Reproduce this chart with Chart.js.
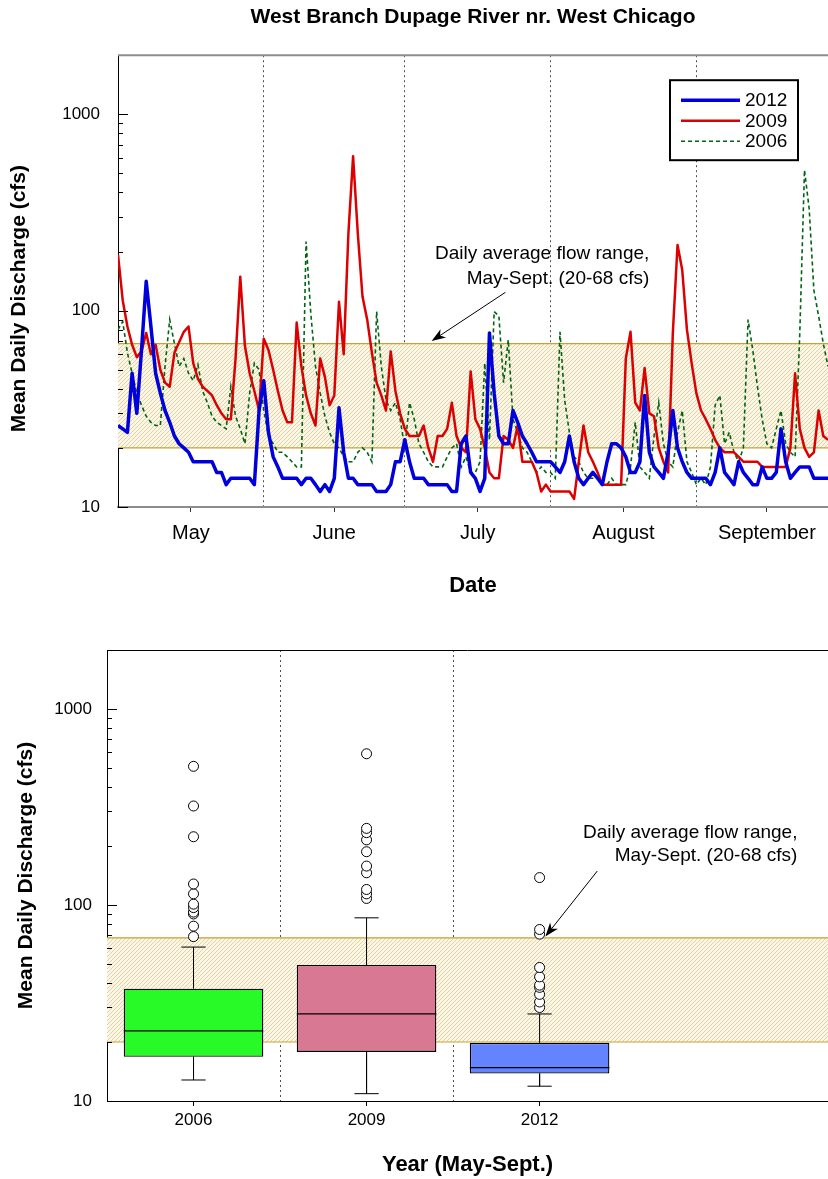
<!DOCTYPE html>
<html>
<head>
<meta charset="utf-8">
<title>West Branch Dupage River nr. West Chicago</title>
<script src="https://cdn.jsdelivr.net/npm/chart.js@4.4.1/dist/chart.umd.min.js"></script>
<style>
  html, body { margin: 0; padding: 0; background: #fff; }
  #page { position: relative; width: 828px; height: 1179px; }
  canvas { display: block; position: absolute; left: 0; }
  #flowChart { top: 0; }
  #boxChart { top: 600px; }
</style>
</head>
<body>
<div id="page">
  <canvas id="flowChart" width="828" height="600"></canvas>
  <canvas id="boxChart" width="828" height="579"></canvas>
</div>
<script>
// Daily mean discharge (cfs), one value per day from May 1 to Sept 29
const flow2012 = [
  26, 25, 24, 48, 30, 63, 141, 83, 48, 38, 31, 27, 23, 21, 20, 19, 17, 17, 17, 17, 17, 15, 15, 13, 14, 14, 14, 14, 14, 13, 31,   // May
  44, 24, 18, 16, 14, 14, 14, 14, 13, 14, 14, 13, 12, 13, 12, 14, 32, 19, 14, 14, 13, 13, 13, 13, 12, 12, 12, 13, 17, 17,       // June
  22, 17, 14, 14, 14, 13, 13, 13, 13, 13, 12, 12, 21, 23, 15, 14, 12, 14, 77, 38, 23, 21, 21, 31, 27, 23, 21, 19, 17, 17, 17,   // July
  17, 16, 15, 17, 23, 17, 14, 13, 14, 15, 14, 13, 17, 21, 21, 20, 18, 15, 15, 17, 37, 19, 16, 15, 14, 19, 31, 20, 17, 15, 14,   // August
  14, 14, 14, 13, 15, 20, 15, 14, 13, 17, 15, 14, 13, 13, 16, 14, 14, 15, 25, 17, 14, 15, 16, 16, 16, 14, 14, 14, 14            // September
];
const flow2009 = [
  193, 113, 83, 67, 58, 62, 77, 60, 67, 50, 43, 41, 61, 69, 78, 83, 54, 45, 41, 39, 37, 33, 30, 28, 28, 57, 149, 66, 48, 39, 31,
  72, 63, 50, 39, 31, 27, 27, 87, 52, 37, 30, 26, 57, 46, 33, 37, 111, 60, 247, 612, 247, 118, 90, 61, 43, 37, 31, 62, 39, 30,
  25, 23, 23, 23, 26, 20, 17, 23, 23, 25, 34, 23, 20, 19, 49, 28, 25, 20, 15, 14, 14, 23, 22, 20, 26, 17, 17, 17, 15, 12, 13,
  12, 12, 12, 12, 12, 11, 17, 26, 19, 17, 15, 13, 13, 13, 13, 13, 57, 78, 34, 31, 51, 30, 29, 20, 17, 15, 77, 216, 161, 80, 54,
  38, 31, 28, 25, 22, 20, 19, 19, 19, 18, 17, 17, 17, 17, 16, 16, 16, 16, 16, 16, 20, 48, 25, 20, 18, 19, 31, 23, 22
];
const flow2006 = [
  80, 88, 61, 48, 38, 33, 29, 27, 26, 26, 52, 90, 68, 52, 57, 48, 44, 53, 39, 34, 29, 27, 26, 25, 41, 29, 25, 21, 38, 54, 50,
  31, 23, 21, 19, 19, 18, 17, 16, 16, 225, 97, 52, 38, 29, 24, 21, 20, 18, 17, 17, 19, 20, 19, 17, 99, 52, 35, 31, 34, 28,
  20, 34, 28, 21, 19, 17, 16, 16, 16, 18, 20, 21, 16, 18, 15, 15, 17, 54, 22, 99, 94, 43, 71, 28, 24, 20, 19, 17, 15, 16, 15,
  15, 14, 78, 35, 24, 18, 17, 15, 14, 14, 14, 13, 13, 14, 13, 13, 13, 16, 27, 16, 15, 14, 23, 34, 21, 17, 16, 24, 31, 17, 15,
  13, 14, 13, 16, 33, 37, 21, 24, 19, 17, 20, 90, 63, 41, 28, 21, 20, 25, 31, 21, 19, 18, 77, 520, 330, 127, 94, 68, 52
];

// day numbers counted from May 1
const monthNames = ['May', 'June', 'July', 'August', 'September'];
const monthStarts = [0, 31, 61, 92, 123];
const monthMids = [15.5, 46, 76.5, 107.5, 138];
const lastDay = 151;

// daily average flow range for May-Sept.
const rangeLow = 20;
const rangeHigh = 68;

// box plot summaries per year
const boxYears = [2006, 2009, 2012];
const boxLabels = ['2006', '2009', '2012'];
const whiskerLow = [12.8, 10.9, 11.9];
const quartile1 = [16.8, 17.8, 13.8];
const medians = [22.8, 27.8, 14.8];
const quartile3 = [37.4, 49.4, 19.8];
const whiskerHigh = [61, 86, 27.8];
const outliers2006 = [69, 78, 90, 92, 97, 101, 114, 128, 223, 320, 510];
const outliers2009 = [108, 114, 120, 146, 158, 187, 215, 234, 246, 591];
const outliers2012 = [30, 32, 35, 38, 39, 43, 48, 71, 75, 138];

const yTickValues = [10, 20, 30, 40, 50, 60, 70, 80, 90, 100, 200, 300, 400, 500, 600, 700, 800, 900, 1000, 2000];
const yLabelled = [10, 100, 1000];

const family = "'Liberation Sans', Arial, Helvetica, sans-serif";
Chart.defaults.font.family = family;
Chart.defaults.color = '#000';

const noteLines = ['Daily average flow range,', 'May-Sept. (20-68 cfs)'];
const yTitle = 'Mean Daily Discharge (cfs)';

// light tan diagonal hatching for the flow range band
function hatchPattern() {
  const c = document.createElement('canvas');
  c.width = 4; c.height = 4;
  const g = c.getContext('2d');
  g.fillStyle = '#fbf6e6';
  g.fillRect(0, 0, 4, 4);
  g.strokeStyle = '#e2d3a6';
  g.lineWidth = 1;
  g.beginPath(); g.moveTo(-1, 5); g.lineTo(5, -1); g.stroke();
  return g.createPattern(c, 'repeat');
}

function bandSets(x0, x1) {
  const edge = { type: 'line', borderColor: '#c9a233', borderWidth: 1.2, pointRadius: 0, order: 10, xAxisID: 'x' };
  return [
    Object.assign({ label: 'hi', data: [{ x: x0, y: rangeHigh }, { x: x1, y: rangeHigh }], fill: false }, edge),
    Object.assign({ label: 'lo', data: [{ x: x0, y: rangeLow }, { x: x1, y: rangeLow }], fill: '-1', backgroundColor: hatchPattern() }, edge)
  ];
}

function logAxis(labelPad, titlePad, width, titleText) {
  return {
    type: 'logarithmic', min: 10, max: 2000,
    afterBuildTicks: s => { s.ticks = yTickValues.map(v => ({ value: v })); },
    afterFit: s => { s.width = width; },
    ticks: { autoSkip: false, padding: labelPad, font: { size: 17 }, color: '#000',
      callback: v => yLabelled.includes(v) ? String(v) : '' },
    grid: { display: false, drawTicks: false },
    border: { display: true, color: '#000', width: 1 },
    title: { display: true, text: titleText, color: '#000',
      font: { size: 21, weight: 'bold' }, padding: { top: titlePad, bottom: 0 } }
  };
}

// short tick marks on the inside of the left axis
const innerTicks = {
  id: 'innerTicks',
  afterDraw(chart) {
    const { ctx, chartArea: a } = chart;
    const y = chart.scales.y;
    ctx.save();
    ctx.strokeStyle = '#000';
    ctx.lineWidth = 1;
    y.ticks.forEach(t => {
      const py = Math.round(y.getPixelForValue(t.value)) + 0.5;
      const len = yLabelled.includes(t.value) ? 10 : 5;
      ctx.beginPath(); ctx.moveTo(a.left, py); ctx.lineTo(a.left + len, py); ctx.stroke();
    });
    ctx.restore();
  }
};

// line along the top edge of the plot
const frameTop = {
  id: 'frameTop',
  afterDraw(chart, args, o) {
    const { ctx, chartArea: a } = chart;
    ctx.save();
    ctx.strokeStyle = o.color;
    ctx.lineWidth = o.width;
    const y = a.top + (o.width % 2 ? 0.5 : 0);
    ctx.beginPath(); ctx.moveTo(a.left, y); ctx.lineTo(a.right, y); ctx.stroke();
    ctx.restore();
  }
};

// text note with an arrow pointing at the band
const rangeNote = {
  id: 'rangeNote',
  afterDatasetsDraw(chart, args, o) {
    const { ctx, scales: { x, y } } = chart;
    ctx.save();
    ctx.font = '19px ' + family;
    ctx.fillStyle = '#000';
    ctx.textAlign = 'right';
    ctx.textBaseline = 'middle';
    noteLines.forEach((t, i) => ctx.fillText(t, x.getPixelForValue(o.textX), y.getPixelForValue(o.lineY[i])));
    const x0 = x.getPixelForValue(o.from[0]), y0 = y.getPixelForValue(o.from[1]);
    const x1 = x.getPixelForValue(o.to[0]), y1 = y.getPixelForValue(o.to[1]);
    const ang = Math.atan2(y1 - y0, x1 - x0);
    const c = Math.cos(ang), s = Math.sin(ang);
    ctx.strokeStyle = '#000';
    ctx.lineWidth = 1;
    ctx.beginPath(); ctx.moveTo(x0, y0); ctx.lineTo(x1 - 8 * c, y1 - 8 * s); ctx.stroke();
    ctx.beginPath();
    ctx.moveTo(x1, y1);
    ctx.lineTo(x1 - 14 * c + 5 * s, y1 - 14 * s - 5 * c);
    ctx.lineTo(x1 - 10 * c, y1 - 10 * s);
    ctx.lineTo(x1 - 14 * c - 5 * s, y1 - 14 * s + 5 * c);
    ctx.closePath();
    ctx.fill();
    ctx.restore();
  }
};

// boxed key for the three years
const seriesKey = {
  id: 'seriesKey',
  afterDraw(chart) {
    const { ctx, chartArea: a } = chart;
    const left = a.right - 158, top = a.top + 25;
    ctx.save();
    ctx.fillStyle = '#fff';
    ctx.fillRect(left, top, 128, 80);
    ctx.strokeStyle = '#000';
    ctx.lineWidth = 2;
    ctx.strokeRect(left, top, 128, 80);
    chart.data.datasets.slice(0, 3).forEach((ds, i) => {
      const yy = top + 20 + i * 20.5;
      ctx.strokeStyle = ds.borderColor;
      ctx.lineWidth = ds.borderWidth;
      ctx.setLineDash(ds.borderDash || []);
      ctx.beginPath(); ctx.moveTo(left + 11, yy); ctx.lineTo(left + 70, yy); ctx.stroke();
      ctx.setLineDash([]);
      ctx.fillStyle = '#000';
      ctx.font = '19px ' + family;
      ctx.textBaseline = 'middle';
      ctx.fillText(ds.label, left + 75, yy + 1);
    });
    ctx.restore();
  }
};

const toPoints = arr => arr.map((v, d) => ({ x: d, y: v }));
const dayTicks = monthStarts.flatMap((s, i) => [s, monthMids[i]]);

new Chart(document.getElementById('flowChart'), {
  type: 'line',
  data: {
    datasets: [
      { label: '2012', data: toPoints(flow2012), borderColor: '#0000dc', borderWidth: 3.5, pointRadius: 0, borderJoinStyle: 'round' },
      { label: '2009', data: toPoints(flow2009), borderColor: '#dc0000', borderWidth: 2.5, pointRadius: 0, borderJoinStyle: 'round' },
      { label: '2006', data: toPoints(flow2006), borderColor: '#006414', borderWidth: 1.6, borderDash: [4, 3], pointRadius: 0 },
      ...bandSets(0, lastDay)
    ]
  },
  options: {
    responsive: false,
    animation: false,
    layout: { padding: 0, autoPadding: false },
    plugins: {
      legend: { display: false },
      tooltip: { enabled: false },
      title: {
        display: true, fullSize: false,
        text: 'West Branch Dupage River nr. West Chicago',
        font: { size: 21, weight: 'bold' }, color: '#000',
        padding: { top: 5, bottom: 25 }
      },
      frameTop: { color: '#8c8c8c', width: 2 },
      rangeNote: { textX: 113, lineY: [196, 146], from: [82.4, 124], to: [66.7, 70] }
    },
    scales: {
      x: {
        type: 'linear', min: 0, max: lastDay,
        afterBuildTicks: s => { s.ticks = dayTicks.map(v => ({ value: v })); },
        afterFit: s => { s.height = 93; },
        ticks: { autoSkip: false, maxRotation: 0, padding: 9, font: { size: 20 }, color: '#000',
          callback: v => { const i = monthMids.indexOf(v); return i >= 0 ? monthNames[i] : ''; } },
        grid: {
          drawOnChartArea: true, drawTicks: true, tickLength: 5, lineWidth: 1,
          color: c => (c.tick && monthStarts.includes(c.tick.value)) ? '#505050' : 'rgba(0,0,0,0)',
          tickColor: c => (c.tick && monthMids.includes(c.tick.value)) ? '#333' : 'rgba(0,0,0,0)'
        },
        border: { display: true, color: '#8c8c8c', width: 2, dash: [2, 3] },
        title: { display: true, text: 'Date', color: '#000', font: { size: 22, weight: 'bold' }, padding: { top: 0, bottom: 1 } }
      },
      // trailing spaces move the rotated title a little below the plot's middle
      y: logAxis(18, 7, 118, yTitle + '\u00a0\u00a0\u00a0\u00a0\u00a0\u00a0')
    }
  },
  plugins: [innerTicks, frameTop, rangeNote, seriesKey]
});

// box plot: boxes are floating bars, whiskers and medians are broken line segments
const boxHalf = 1.21;
const capHalf = 0.21;
const yearStep = 3;

function hSegments(values, half) {
  return boxYears.flatMap((yr, i) => [{ x: yr - half, y: values[i] }, { x: yr + half, y: values[i] }, { x: yr, y: null }]);
}
const whiskerPts = boxYears.flatMap((yr, i) => [
  { x: yr, y: quartile3[i] }, { x: yr, y: whiskerHigh[i] }, { x: yr, y: null },
  { x: yr, y: quartile1[i] }, { x: yr, y: whiskerLow[i] }, { x: yr, y: null }
]).concat(hSegments(whiskerHigh, capHalf), hSegments(whiskerLow, capHalf));
const outlierPts = [outliers2006, outliers2009, outliers2012]
  .flatMap((list, i) => list.map(v => ({ x: boxYears[i], y: v })));

const yearMin = 2004.5, yearMax = 2017;

new Chart(document.getElementById('boxChart'), {
  type: 'bar',
  data: {
    datasets: [
      { type: 'scatter', label: 'outliers', data: outlierPts, xAxisID: 'x', order: 1,
        pointRadius: 5, pointStyle: 'circle', pointBackgroundColor: '#fff', pointBorderColor: '#000', pointBorderWidth: 1 },
      { type: 'line', label: 'median', data: hSegments(medians, boxHalf), xAxisID: 'x', order: 2,
        borderColor: '#000', borderWidth: 1.3, pointRadius: 0, spanGaps: false },
      { type: 'line', label: 'whiskers', data: whiskerPts, xAxisID: 'x', order: 3,
        borderColor: '#000', borderWidth: 1, pointRadius: 0, spanGaps: false },
      { type: 'bar', label: 'box', xAxisID: 'x', order: 5,
        data: boxYears.map((yr, i) => ({ x: yr, y: [quartile1[i], quartile3[i]] })),
        backgroundColor: ['#28fa28', '#d87893', '#6383ff'],
        borderColor: '#000', borderWidth: 1.3, borderSkipped: false,
        categoryPercentage: 1, barPercentage: 2 * boxHalf / yearStep },
      ...bandSets(yearMin, yearMax)
    ]
  },
  options: {
    responsive: false,
    animation: false,
    layout: { padding: { top: 50, right: 0, bottom: 0, left: 0 }, autoPadding: false },
    plugins: {
      legend: { display: false },
      tooltip: { enabled: false },
      frameTop: { color: '#000', width: 1 },
      rangeNote: { textX: 2016.47, lineY: [233, 178], from: [2013.0, 149], to: [2012.1, 69] }
    },
    scales: {
      x: {
        type: 'linear', min: yearMin, max: yearMax, offset: false,
        afterBuildTicks: s => { s.ticks = boxYears.map(v => ({ value: v })); },
        afterFit: s => { s.height = 78; },
        ticks: { autoSkip: false, maxRotation: 0, padding: 4, font: { size: 17 }, color: '#000',
          callback: v => boxLabels[boxYears.indexOf(v)] || '' },
        grid: { offset: false, drawOnChartArea: false, drawTicks: true, tickLength: 5, tickColor: '#000' },
        border: { display: true, color: '#000', width: 1 },
        title: { display: true, text: 'Year (May-Sept.)', color: '#000', font: { size: 22, weight: 'bold' }, padding: { top: 0, bottom: 1 } }
      },
      xDiv: {
        type: 'linear', position: 'bottom', min: yearMin, max: yearMax, offset: false,
        afterBuildTicks: s => { s.ticks = [2007.5, 2010.5].map(v => ({ value: v })); },
        afterFit: s => { s.height = 0; },
        ticks: { display: false },
        grid: { offset: false, drawOnChartArea: true, drawTicks: false, color: '#505050', lineWidth: 1 },
        border: { display: false, dash: [2, 3] }
      },
      y: logAxis(15, 14, 107, yTitle)
    }
  },
  plugins: [innerTicks, frameTop, rangeNote]
});
</script>
</body>
</html>
